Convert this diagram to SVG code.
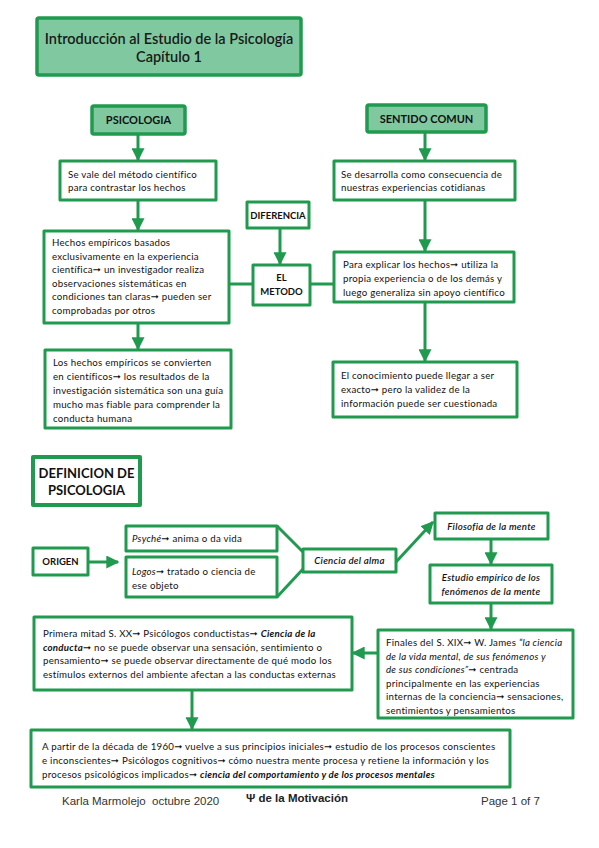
<svg xmlns="http://www.w3.org/2000/svg" width="599" height="848" viewBox="0 0 599 848">
<style>
.box{fill:#fff;stroke:#1f9a4e;stroke-width:3;stroke-linejoin:round}
.hdr{fill:#80c9a0;stroke:#1f9a4e;stroke-width:3.5;stroke-linejoin:round}
.ln{stroke:#1f9a4e;stroke-width:3;fill:none}
text{font-family:Lato,"DejaVu Sans",sans-serif;fill:#111}
.t{font-size:9.7px;letter-spacing:0.25px}
.b{font-weight:bold}
.i{font-style:italic}
.h{font-size:11px;font-weight:bold;text-anchor:middle}
.c{text-anchor:middle}
.ft{font-family:"Liberation Sans",Arial,sans-serif;font-size:11.5px;fill:#333}
</style>
<defs>
<marker id="ah" viewBox="0 0 10 10" refX="9" refY="5" markerUnits="userSpaceOnUse" markerWidth="13" markerHeight="13" orient="auto">
<path d="M0,0 L10,5 L0,10 z" fill="#1f9a4e"/>
</marker>
</defs>

<g id="connectors">
<line class="ln" x1="138" y1="134" x2="138" y2="160" marker-end="url(#ah)"/>
<line class="ln" x1="138" y1="200" x2="138" y2="230" marker-end="url(#ah)"/>
<line class="ln" x1="138" y1="323" x2="138" y2="349" marker-end="url(#ah)"/>
<line class="ln" x1="229" y1="284" x2="253" y2="284"/>
<line class="ln" x1="280" y1="228" x2="280" y2="264" marker-end="url(#ah)"/>
<line class="ln" x1="310" y1="284" x2="334" y2="284"/>
<line class="ln" x1="425" y1="132" x2="425" y2="160" marker-end="url(#ah)"/>
<line class="ln" x1="425" y1="200" x2="425" y2="251" marker-end="url(#ah)"/>
<line class="ln" x1="425" y1="302" x2="425" y2="361" marker-end="url(#ah)"/>
<line class="ln" x1="88" y1="562" x2="118" y2="562" marker-end="url(#ah)"/>
<polyline class="ln" points="277,526 303,552"/>
<polyline class="ln" points="277,597 303,569"/>
<line class="ln" x1="396" y1="562" x2="433" y2="522" marker-end="url(#ah)"/>
<line class="ln" x1="491" y1="539" x2="491" y2="564" marker-end="url(#ah)"/>
<line class="ln" x1="491" y1="603" x2="491" y2="629" marker-end="url(#ah)"/>
<line class="ln" x1="378" y1="653" x2="353" y2="653" marker-end="url(#ah)"/>
<line class="ln" x1="192" y1="690" x2="192" y2="729" marker-end="url(#ah)"/>
</g>

<g id="title">
<rect class="hdr" x="37" y="18" width="264" height="57" rx="2"/>
<text x="169" y="44" class="c" style="font-size:14.5px;font-weight:600;fill:#1a1a1a">Introducción al Estudio de la Psicología</text>
<text x="169" y="62" class="c" style="font-size:14.5px;font-weight:600;fill:#1a1a1a">Capítulo 1</text>
</g>

<g id="psicologia">
<rect class="hdr" x="92" y="106" width="93" height="28" rx="2"/>
<text x="138.5" y="124" class="h">PSICOLOGIA</text>
</g>

<g id="psi1">
<rect class="box" x="60" y="161" width="156" height="39"/>
<text class="t" x="68" y="178">Se vale del método científico</text>
<text class="t" x="68" y="191">para contrastar los hechos</text>
</g>

<g id="psi2">
<rect class="box" x="44" y="231" width="185" height="92"/>
<text class="t" x="52" y="246">Hechos empíricos basados</text>
<text class="t" x="52" y="259.5">exclusivamente en la experiencia</text>
<text class="t" x="52" y="273">científica➞ un investigador realiza</text>
<text class="t" x="52" y="286.5">observaciones sistemáticas en</text>
<text class="t" x="52" y="300">condiciones tan claras➞ pueden ser</text>
<text class="t" x="52" y="313.5">comprobadas por otros</text>
</g>

<g id="psi3">
<rect class="box" x="45" y="350" width="186" height="78"/>
<text class="t" x="53" y="366">Los hechos empíricos se convierten</text>
<text class="t" x="53" y="380">en científicos➞ los resultados de la</text>
<text class="t" x="53" y="394">investigación sistemática son una guía</text>
<text class="t" x="53" y="408">mucho mas fiable para comprender la</text>
<text class="t" x="53" y="422">conducta humana</text>
</g>

<g id="diferencia">
<rect class="box" x="247" y="202" width="62" height="26"/>
<text x="278" y="219" class="h" style="font-size:9.5px">DIFERENCIA</text>
</g>

<g id="metodo">
<rect class="box" x="253" y="265" width="57" height="40"/>
<text x="281.5" y="281" class="h" style="font-size:9.5px">EL</text>
<text x="281.5" y="295" class="h" style="font-size:9.5px">METODO</text>
</g>

<g id="sentido">
<rect class="hdr" x="367" y="105" width="119" height="27" rx="2"/>
<text x="426.5" y="123" class="h">SENTIDO COMUN</text>
</g>

<g id="sc1">
<rect class="box" x="334" y="161" width="181" height="39"/>
<text class="t" x="341" y="178">Se desarrolla como consecuencia de</text>
<text class="t" x="341" y="191">nuestras experiencias cotidianas</text>
</g>

<g id="sc2">
<rect class="box" x="334" y="252" width="180" height="50"/>
<text class="t" x="343" y="268">Para explicar los hechos➞ utiliza la</text>
<text class="t" x="343" y="282">propia experiencia o de los demás y</text>
<text class="t" x="343" y="296">luego generaliza sin apoyo científico</text>
</g>

<g id="sc3">
<rect class="box" x="333" y="362" width="184" height="55"/>
<text class="t" x="341" y="379">El conocimiento puede llegar a ser</text>
<text class="t" x="341" y="393">exacto➞ pero la validez de la</text>
<text class="t" x="341" y="407">información puede ser cuestionada</text>
</g>

<g id="definicion">
<rect class="box" x="33" y="457" width="107" height="48" style="stroke-width:4"/>
<text x="86.5" y="478" class="h" style="font-size:13px">DEFINICION DE</text>
<text x="86.5" y="495" class="h" style="font-size:13px">PSICOLOGIA</text>
</g>

<g id="origen">
<rect class="box" x="33" y="548" width="55" height="27"/>
<text x="60.5" y="565" class="h" style="font-size:9.5px">ORIGEN</text>
</g>

<g id="psyche">
<rect class="box" x="126" y="526" width="151" height="25"/>
<text class="t" x="132" y="542"><tspan class="i">Psyché</tspan>➞ anima o da vida</text>
</g>

<g id="logos">
<rect class="box" x="126" y="557" width="151" height="40"/>
<text class="t" x="132" y="575"><tspan class="i">Logos</tspan>➞ tratado o ciencia de</text>
<text class="t" x="132" y="589">ese objeto</text>
</g>

<g id="alma">
<rect class="box" x="303" y="549" width="93" height="23"/>
<text x="349.5" y="564" class="t c i" style="font-weight:600">Ciencia del alma</text>
</g>

<g id="filosofia">
<rect class="box" x="435" y="513" width="113" height="26"/>
<text x="491.5" y="530" class="t c i" style="font-weight:600">Filosofia de la mente</text>
</g>

<g id="estudio">
<rect class="box" x="430" y="565" width="122" height="38"/>
<text x="491" y="581" class="t c i" style="font-weight:600">Estudio empírico de los</text>
<text x="491" y="595" class="t c i" style="font-weight:600">fenómenos de la mente</text>
</g>

<g id="finales">
<rect class="box" x="378" y="630" width="195" height="88"/>
<text class="t" x="386" y="646">Finales del S. XIX➞ W. James <tspan class="i">“la ciencia</tspan></text>
<text class="t i" x="386" y="659.5">de la vida mental, de sus fenómenos y</text>
<text class="t" x="386" y="673"><tspan class="i">de sus condiciones”</tspan>➞ centrada</text>
<text class="t" x="386" y="686.5">principalmente en las experiencias</text>
<text class="t" x="386" y="700">internas de la conciencia➞ sensaciones,</text>
<text class="t" x="386" y="713.5">sentimientos y pensamientos</text>
</g>

<g id="primera">
<rect class="box" x="34" y="617" width="318" height="73"/>
<text class="t" x="43" y="637">Primera mitad S. XX➞ Psicólogos conductistas➞ <tspan class="i b">Ciencia de la</tspan></text>
<text class="t" x="43" y="650.5"><tspan class="i b">conducta</tspan>➞ no se puede observar una sensación, sentimiento o</text>
<text class="t" x="43" y="664">pensamiento➞ se puede observar directamente de qué modo los</text>
<text class="t" x="43" y="677.5">estímulos externos del ambiente afectan a las conductas externas</text>
</g>

<g id="decada">
<rect class="box" x="31" y="730" width="479" height="57"/>
<text class="t" x="42" y="750">A partir de la década de 1960➞ vuelve a sus principios iniciales➞ estudio de los procesos conscientes</text>
<text class="t" x="42" y="764">e inconscientes➞ Psicólogos cognitivos➞ cómo nuestra mente procesa y retiene la información y los</text>
<text class="t" x="42" y="778">procesos psicológicos implicados➞ <tspan class="i b">ciencia del comportamiento y de los procesos mentales</tspan></text>
</g>

<g id="footer">
<text class="ft" x="62" y="805" xml:space="preserve">Karla Marmolejo  octubre 2020</text>
<text class="ft b" x="246" y="802" style="fill:#222">Ψ de la Motivación</text>
<text class="ft" x="481" y="805">Page 1 of 7</text>
</g>
</svg>
